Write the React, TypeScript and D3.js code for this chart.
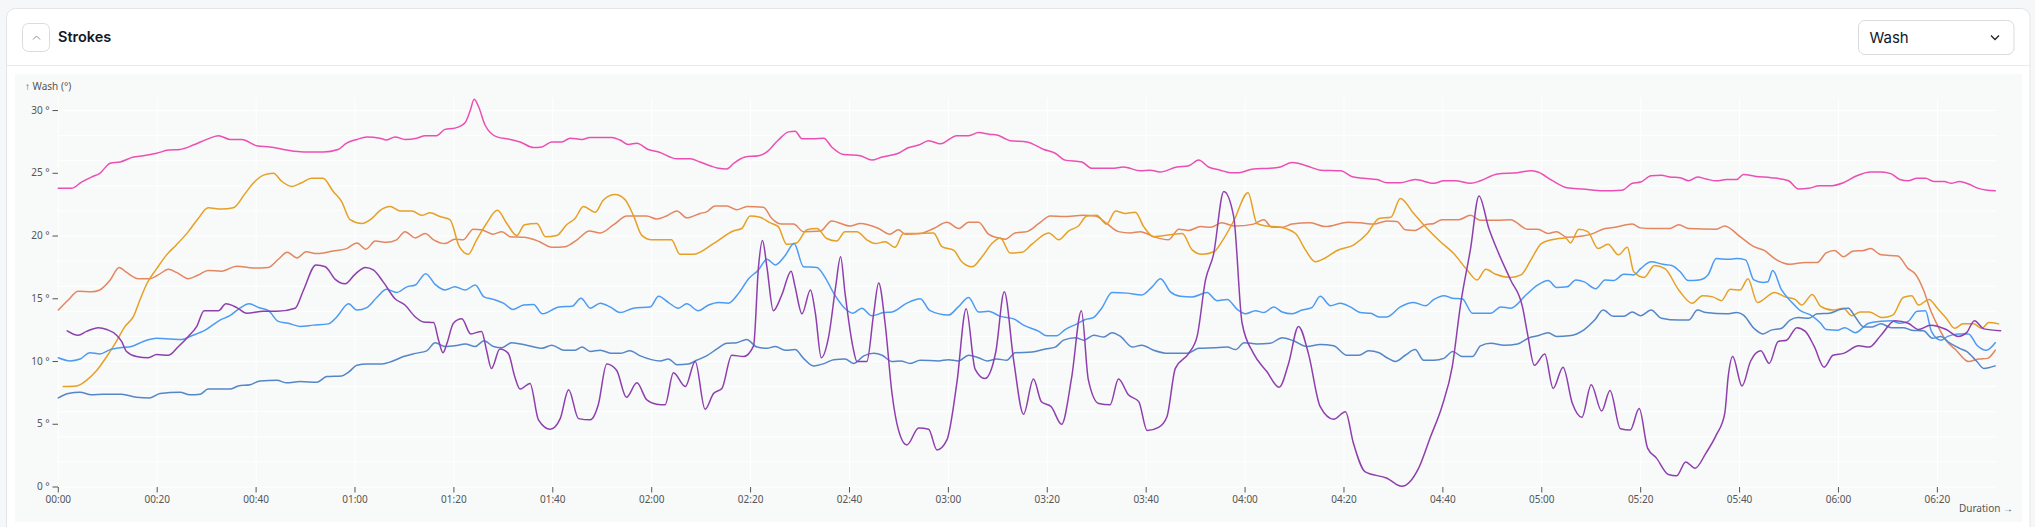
import React from "react";
import * as d3 from "d3";

type P = [number, number];

// minutes, degrees
const pinkSeries: P[] = [[0,23.8],[2.7,23.8],[4.7,24.3],[6.7,24.7],[8.4,25.0],[10.5,25.8],[12.5,25.9],[15.2,26.3],[17.2,26.4],[19.9,26.6],[22.3,26.85],[24.6,26.9],[27.3,27.25],[30,27.7],[32.4,28.0],[34.7,27.7],[37.1,27.7],[40.1,27.2],[42.8,27.1],[46.2,26.85],[49.6,26.7],[53.6,26.7],[56.6,26.9],[58.3,27.4],[60.4,27.7],[62.4,27.9],[65,27.8],[66.4,27.65],[68.1,27.9],[70.1,27.7],[72.5,27.8],[74.2,28.0],[76.5,28.0],[78.2,28.5],[80.2,28.6],[82.3,29.05],[83.3,30.0],[84.1,30.9],[85,30.3],[86.3,28.85],[88.7,27.9],[91.4,27.7],[93.4,27.5],[96.1,27.05],[97.8,27.1],[99.8,27.5],[101.8,27.5],[103.5,27.8],[105.9,27.7],[107.5,27.85],[111.9,27.85],[113.6,27.65],[115.3,27.3],[117,27.4],[119.3,26.9],[121.4,26.7],[125.1,26.15],[127.8,26.15],[129.8,25.9],[131.8,25.6],[133.5,25.4],[135.2,25.35],[136.6,25.8],[138.9,26.3],[141.6,26.4],[143.3,26.7],[145.6,27.65],[147.7,28.3],[149,28.35],[150.4,27.75],[152.7,27.75],[154.8,27.8],[156.4,27.1],[158.8,26.5],[162.2,26.4],[164.5,26.05],[166.6,26.3],[169.9,26.6],[172,27.05],[174,27.25],[176,27.6],[178.4,27.35],[181.7,28.0],[184.1,28.0],[186.1,28.25],[188.4,28.1],[189.8,28.05],[191.8,27.7],[192.5,27.6],[195.9,27.5],[199.3,26.9],[201.6,26.6],[203.6,26.05],[207,25.9],[209,25.4],[213.1,25.4],[215.4,25.5],[218.8,25.2],[220.8,25.25],[222.8,25.1],[226.2,25.5],[228.6,25.6],[230.6,26.05],[232.6,25.5],[235,25.25],[237,25.05],[238.7,25.05],[241.7,25.35],[245.1,25.4],[247.1,25.5],[249.5,25.85],[253.5,25.45],[255.2,25.25],[259.3,25.2],[261.9,24.7],[264,24.6],[266.7,24.5],[268.7,24.25],[271.4,24.25],[274.4,24.5],[278.2,24.2],[280.2,24.4],[282.5,24.4],[285.6,24.2],[287.6,24.4],[291,24.95],[295.1,25.05],[297.8,25.2],[299.2,25.1],[302,24.45],[305.1,23.85],[308.2,23.75],[312.4,23.6],[316.2,23.65],[318.3,24.2],[320,24.3],[322.1,24.8],[324.2,24.85],[325.9,24.7],[328,24.65],[329.7,24.4],[331.5,24.7],[333.2,24.55],[335.3,24.4],[337.4,24.5],[339.4,24.5],[340.8,24.9],[343.3,24.75],[346.4,24.65],[349.9,24.4],[351.9,23.75],[354,23.8],[356.1,24.0],[358.2,24.0],[361,24.25],[363.7,24.8],[366.5,25.1],[368.6,25.1],[370.7,24.95],[372.4,24.5],[374.1,24.4],[375.9,24.6],[377.6,24.6],[379.3,24.35],[381.4,24.35],[382.8,24.2],[384.5,24.35],[386.3,24.15],[388.3,23.8],[390.1,23.65],[391.7,23.6]];

const coralSeries: P[] = [[0,14.1],[2,14.9],[4,15.6],[6.7,15.55],[8.4,15.7],[10.5,16.5],[12.3,17.5],[13.8,17.1],[16.2,16.6],[18.5,16.6],[20.2,16.9],[22.3,17.35],[23.9,17.1],[26.3,16.6],[28.3,16.9],[30.3,17.25],[33,17.2],[36.1,17.6],[39.4,17.45],[42.5,17.5],[44.5,18.15],[46.3,18.7],[48.3,18.25],[50.1,18.75],[52.3,18.6],[55.6,18.8],[58.3,19.0],[60.4,19.45],[62.2,18.95],[64.1,19.6],[66.4,19.5],[68.4,19.7],[70.1,20.35],[72.2,19.85],[74.2,20.2],[75.9,19.7],[78.2,19.4],[80.2,19.75],[81.9,19.7],[83.9,20.55],[85.6,20.5],[87.9,20.15],[89.7,20.35],[91.4,19.95],[94.3,19.9],[97.3,19.55],[99.8,19.1],[102.5,19.15],[104.9,19.7],[107.4,20.4],[109.6,20.25],[112.3,20.9],[115,21.6],[119,21.6],[121,21.35],[123,21.6],[125.1,22.0],[127.1,21.45],[129.8,21.8],[131.2,21.95],[132.8,22.4],[135.2,22.4],[137.2,22.1],[139.3,22.35],[142.6,22.3],[144.3,21.4],[146.3,20.95],[148.7,20.95],[150.7,20.35],[154.1,20.4],[156.4,21.2],[160.1,20.8],[162.2,21.0],[165.9,20.6],[168.2,20.15],[169.9,20.5],[171.3,20.15],[174.3,20.2],[177,20.6],[179.7,21.1],[182.1,20.6],[184.1,21.1],[186.1,21.1],[188.1,20.15],[190.1,19.85],[191.5,19.75],[193.5,20.25],[195.9,20.35],[198.3,21.0],[200.6,21.6],[203.3,21.55],[207.3,21.65],[209.7,21.6],[212,21.0],[214.4,20.35],[216.8,20.25],[218.8,20.35],[221.5,19.95],[224.5,19.7],[226.6,20.55],[228.6,20.45],[231,20.75],[233,20.7],[235.3,21.05],[238,20.8],[241.7,20.95],[243.8,21.3],[245.4,20.7],[247.5,20.7],[249.5,20.95],[253.2,21.05],[256.2,20.75],[260.9,21.1],[263.3,21.05],[266,20.95],[268.7,21.2],[270.7,21.15],[272.4,20.5],[274.4,20.45],[276.5,20.9],[278.2,21.0],[279.8,21.3],[283.2,21.3],[285.6,21.65],[287.6,21.25],[291,21.25],[293.7,21.3],[297.1,20.55],[299.2,20.55],[301.3,20.2],[303,20.35],[305.1,19.9],[308.2,20.0],[310,20.15],[312.8,20.6],[314.8,20.7],[318.3,20.95],[320,20.65],[322.1,20.6],[325.9,20.6],[327.7,20.9],[329.7,20.6],[335.3,20.55],[337,20.8],[340.1,19.95],[342.9,19.15],[345,18.85],[347.1,18.2],[350.2,17.75],[353.3,17.9],[355.7,17.9],[357.5,18.65],[359.2,18.85],[361,18.35],[363,18.8],[365.1,18.85],[366.5,19.0],[368.6,18.5],[372,18.4],[374.1,17.4],[375.5,17.0],[377.2,15.7],[378.6,14.1],[380,12.9],[381.7,11.7],[383.8,10.9],[386.3,10.0],[388.3,10.2],[390.1,10.25],[391.7,10.9]];

const goldSeries: P[] = [[1,8.0],[3.7,8.05],[5.7,8.5],[7.8,9.3],[9.8,10.4],[11.5,11.45],[13.5,12.8],[15.2,13.6],[16.5,14.9],[17.9,16.2],[19.9,17.4],[21.9,18.5],[23.9,19.3],[26.3,20.35],[28.3,21.4],[30.3,22.25],[33,22.15],[35.4,22.25],[37.8,23.4],[39.4,24.2],[41.5,24.85],[43.5,25.0],[45.2,24.35],[47.2,23.95],[49.2,24.25],[51.2,24.6],[53.5,24.6],[55.6,23.55],[57.3,22.75],[59,21.3],[61.4,21.0],[63.4,21.4],[65.1,22.05],[67.1,22.35],[69.1,22.0],[71.5,22.0],[73.5,21.65],[75.2,21.85],[77.2,21.55],[79.2,21.3],[81.1,19.15],[82.9,18.55],[84.6,19.7],[86.6,21.0],[88.8,22.05],[90.7,21.0],[92.7,20.05],[94.3,20.9],[96.8,21.0],[98.5,19.95],[100.8,20.05],[102.8,20.9],[104.5,21.4],[106.2,22.35],[108.6,21.9],[110.2,22.85],[112.6,23.3],[114.6,22.9],[116.3,21.65],[118,20.05],[120,19.7],[124,19.7],[125.7,18.55],[128.4,18.55],[132.5,19.4],[136.5,20.4],[138.2,20.6],[139.9,21.6],[141.9,21.5],[144,21.05],[145.6,20.75],[147.3,19.35],[149.3,19.45],[151.4,20.5],[153.4,20.6],[155.4,19.8],[157.4,19.6],[159.1,20.35],[161.5,20.35],[163.5,19.7],[165.2,19.4],[167.2,19.55],[169.2,19.1],[170.9,20.2],[173.3,20.2],[177,20.25],[178.7,19.15],[181.1,18.85],[182.7,17.95],[184.8,17.55],[186.8,18.35],[188.8,19.4],[190.5,19.85],[192.5,18.65],[194.9,18.7],[196.9,19.35],[200.3,20.25],[202.3,19.7],[204.3,20.4],[206.3,20.8],[208,21.6],[210,21.65],[212,20.95],[213.8,22.0],[215.8,21.8],[217.8,21.9],[219.5,20.75],[221.5,19.95],[224.9,20.1],[227.3,20.2],[229.3,18.9],[231.3,18.55],[233.7,18.75],[235.3,19.55],[237.7,21.2],[240.6,23.45],[242.4,21.0],[244.4,20.8],[247.1,20.7],[250.2,20.2],[252.2,18.9],[254.2,17.95],[256.2,18.25],[258.6,18.85],[262,19.3],[264.7,20.2],[267.1,21.4],[269.5,21.5],[271.4,23.0],[274.1,21.8],[276.8,20.6],[279.5,19.55],[282.2,18.6],[285,17.25],[286.9,16.5],[288.7,17.35],[290.7,16.95],[293.7,16.7],[295.8,16.9],[297.8,18.1],[299.9,19.4],[302,19.7],[304.8,19.85],[305.8,19.45],[307.5,20.55],[309.3,20.35],[311.4,19.0],[313.4,19.35],[315.5,18.5],[317.3,19.1],[318.6,17.15],[320.7,16.7],[322.8,17.65],[324.9,17.4],[327.7,15.7],[330.4,14.65],[332.5,15.25],[334.6,15.15],[336.3,14.85],[338.1,15.75],[340.1,15.7],[341.7,16.6],[343.6,14.7],[347.1,15.5],[349.2,15.15],[351.2,14.95],[352.6,14.5],[354.7,15.35],[356.4,14.4],[358.9,14.1],[361,14.25],[362.7,13.65],[364.4,13.95],[366.2,13.95],[368.9,13.5],[371,13.7],[373.1,15.1],[374.8,15.25],[376.2,14.5],[378.3,14.95],[380,14.25],[381.8,13.45],[383.5,12.65],[385.2,13.0],[387.3,13.0],[389,12.65],[390.4,13.1],[392.4,13.0]];

const skySeries: P[] = [[0,10.3],[2.4,10.05],[4.4,10.2],[6.4,10.7],[8.4,10.6],[10.5,10.95],[12.5,11.1],[14.8,11.2],[17.2,11.6],[19.9,11.85],[22.6,11.8],[24.9,11.75],[27,12.05],[29.7,12.5],[32.7,13.3],[34.7,13.65],[36.7,14.25],[38.6,14.6],[40.5,14.3],[42.5,14.05],[44.5,13.2],[46.5,13.05],[48.9,12.8],[51.6,12.9],[54.6,13.0],[56.3,13.55],[58.7,14.6],[60.4,14.1],[62.4,14.3],[64.4,15.1],[66.4,15.75],[68.4,15.5],[70.5,15.95],[72.2,16.1],[74.3,17.0],[76.2,16.15],[78.2,15.7],[80.2,15.95],[82.3,15.7],[84.3,16.1],[86.1,15.15],[88,14.95],[90,14.65],[92,14.15],[94.1,14.5],[96.1,14.55],[97.9,13.8],[101.3,14.35],[103.9,14.4],[105.7,15.05],[107.6,14.25],[109.6,14.65],[111.6,14.35],[113.6,13.9],[116.3,14.25],[119.7,14.35],[121.4,15.2],[123.4,14.7],[125.4,14.25],[127.1,14.6],[129.4,14.05],[131.5,14.5],[133.5,14.7],[135.5,14.65],[137.6,15.45],[139.6,16.6],[141.6,17.3],[143.3,18.15],[145,17.7],[147,18.45],[148.8,19.4],[150.7,17.55],[153.4,17.5],[155,16.75],[156.8,15.45],[158.8,14.35],[160.7,13.85],[162.5,14.25],[164.5,13.65],[166.9,13.9],[168.6,13.95],[171.6,14.65],[174.3,15.0],[176.3,14.05],[180,13.7],[182,14.35],[184.1,15.1],[186.1,13.95],[188.1,14.0],[190.5,13.6],[193.2,13.4],[195.2,12.9],[198.3,12.4],[199.9,12.05],[201.9,12.05],[203.6,12.55],[206,13.0],[207.7,13.35],[209.3,13.5],[211,14.25],[213.1,15.5],[216.1,15.45],[219.1,15.3],[221.2,15.95],[222.9,16.6],[224.9,15.55],[226.9,15.2],[229.3,15.15],[232.3,15.5],[234.3,14.85],[236.4,14.95],[238.4,14.15],[240.1,13.8],[242.1,14.05],[243.8,13.9],[245.8,14.35],[247.5,13.95],[249.5,13.8],[251.5,14.1],[253.5,14.3],[255.2,15.2],[257.3,14.45],[259.3,14.65],[261.3,14.35],[263.3,13.9],[265.4,13.85],[267.1,13.55],[268.7,13.55],[271.4,14.35],[274.1,14.7],[276.5,14.45],[278.2,14.95],[280.2,15.25],[281.9,15.05],[283.9,15.0],[286,13.85],[289.7,13.85],[291.7,14.35],[293.7,14.25],[296.8,15.3],[299.2,16.1],[301.3,16.45],[303,15.9],[305.1,15.95],[306.9,16.5],[308.6,16.35],[310.9,15.8],[312.8,16.5],[314.5,16.45],[316.6,16.95],[318.6,16.9],[320,17.4],[322.1,17.95],[324.5,17.75],[326.3,17.65],[328,17.15],[329.6,16.45],[331.8,16.5],[333.6,16.9],[335.3,18.2],[337.7,18.15],[339.4,18.2],[341.2,18.1],[342.9,16.5],[344.7,16.3],[345.7,16.35],[346.7,17.25],[348.5,15.7],[350.5,14.75],[352.3,14.05],[354.4,13.7],[356.4,13.05],[357.5,12.55],[359.9,12.5],[361.3,12.7],[363.4,12.3],[366.1,13.05],[368.6,13.2],[370.7,13.25],[372.4,13.05],[374.1,13.2],[375.9,14.0],[377.6,14.05],[378.8,12.4],[380.7,11.7],[382.1,12.0],[384.2,12.2],[386.3,12.2],[388,11.3],[389.9,10.9],[391.7,11.5]];

const steelSeries: P[] = [[0,7.1],[2,7.45],[4.4,7.55],[6.7,7.35],[9.1,7.4],[12.8,7.4],[15.8,7.15],[18.5,7.1],[20.6,7.45],[24.6,7.55],[26.6,7.35],[28.7,7.4],[30.3,7.8],[34.7,7.8],[36.4,8.05],[38.8,8.15],[40.8,8.45],[44.2,8.5],[46.2,8.3],[48.9,8.4],[52.3,8.35],[54.3,8.8],[57.3,8.85],[58.7,9.15],[60.4,9.7],[62.4,9.8],[65.4,9.8],[67.4,10.0],[69.8,10.4],[72.2,10.65],[74.5,10.85],[76.2,11.5],[78.2,11.2],[80.2,11.25],[82.3,11.4],[84.3,11.2],[86.1,11.65],[88,11.2],[89.7,11.1],[91.7,11.5],[94.7,11.3],[97.8,11.05],[99.8,11.3],[102.2,10.9],[104.5,10.9],[105.9,11.15],[107.6,10.8],[109.6,10.9],[111.9,10.65],[113.6,10.65],[115.6,10.85],[117.7,10.45],[121.7,10.05],[123.4,10.2],[125.1,9.75],[127.4,9.8],[129.1,10.1],[131.1,10.45],[133.2,11.0],[135.2,11.45],[137.2,11.5],[139.2,11.75],[141.3,11.15],[143.3,11.05],[145,11.2],[147,10.9],[149,10.95],[150.7,10.25],[152.7,9.65],[155,9.85],[156.8,10.15],[159.1,10.2],[160.8,9.85],[162.9,10.45],[164.9,10.65],[166.6,10.5],[168.6,10.0],[170.3,10.05],[172.3,9.85],[174.3,10.1],[178,10.05],[180,10.15],[182,10.05],[184.1,10.5],[186.1,10.3],[187.8,10.05],[189.8,10.2],[191.8,10.1],[193.5,10.7],[196.9,10.75],[199.6,11.0],[201.6,11.15],[203.3,11.7],[205.7,11.9],[207.4,11.7],[209.4,12.1],[211.4,11.95],[213.1,12.3],[214.8,12.0],[217.2,11.15],[219.1,11.3],[221.5,10.9],[224.5,10.65],[228.3,10.65],[230.6,11.05],[233.7,11.1],[236.4,11.15],[238.1,10.95],[239.8,11.5],[242.4,11.4],[245.1,11.45],[247.5,11.9],[249.8,11.65],[252.5,11.2],[255.2,11.35],[257.9,11.25],[260.6,10.5],[263,10.5],[265,10.85],[267.1,10.7],[268.7,10.3],[270.4,10.0],[272.4,10.5],[274.4,10.95],[276.1,10.1],[278.2,10.1],[280.2,10.25],[282,10.8],[283.9,10.4],[286,10.4],[287.6,11.25],[289.7,11.45],[292.4,11.3],[295.1,11.4],[297.5,11.9],[299.2,12.05],[301.3,12.3],[303,12.0],[305.5,12.05],[308.6,12.55],[310.7,13.3],[312.4,14.1],[314.5,13.6],[316.6,13.6],[318.3,13.95],[320,13.65],[322.1,14.1],[324.2,13.45],[327.7,13.3],[329.7,13.3],[331.5,14.1],[333.2,13.9],[337.4,13.8],[339.4,13.9],[340.8,13.7],[342.9,12.65],[344.7,12.2],[346.4,12.5],[348.5,12.65],[350.2,13.3],[351.9,13.5],[354,13.45],[355.7,13.8],[358.2,13.85],[360.3,14.15],[362,14.25],[363.4,13.55],[365.1,12.75],[366.8,12.75],[368.6,13.0],[370.7,12.7],[373.1,12.7],[374.8,12.5],[377.2,12.45],[379,11.85],[380.7,12.0],[382.4,11.5],[384.5,11.05],[385.9,10.8],[388,10.0],[389.4,9.45],[391.7,9.65]];

const purpleSeries: P[] = [[1.8,12.45],[4,12.1],[5.7,12.4],[8.1,12.7],[9.8,12.55],[11.8,12.1],[12.8,11.6],[13.8,10.8],[15.8,10.4],[18.2,10.3],[19.9,10.55],[22.3,10.5],[24.3,11.2],[26.3,12.0],[28,12.8],[29.5,14.05],[32.4,14.05],[33.9,14.6],[36.1,14.3],[38.1,13.85],[41.5,14.0],[44.2,14.0],[47.9,14.25],[49.6,15.7],[52.1,17.7],[54,17.55],[56,16.55],[58,16.2],[60,16.95],[62.1,17.5],[63.7,17.3],[65.7,16.35],[68.1,15.0],[70.1,14.5],[72.2,13.55],[73.9,13.15],[75.9,13.1],[76.9,11.7],[77.8,10.7],[78.6,11.45],[79.9,13.05],[81.6,13.4],[83.4,12.2],[85.6,12.4],[86.6,10.9],[87.6,9.45],[89.3,11.0],[91,10.65],[92.3,8.8],[93.4,7.8],[95.4,8.25],[97.1,5.35],[99.5,4.6],[101.5,5.45],[103.2,7.75],[105.2,5.45],[107.6,5.35],[109.2,6.55],[110.9,9.8],[112.9,9.3],[114.9,7.15],[117,8.3],[119,6.95],[121,6.6],[122.7,6.55],[124.4,9.1],[126.8,8.0],[128.8,10.0],[130.8,6.2],[132.5,7.45],[134.2,7.85],[136.2,10.5],[138.6,10.4],[140.6,11.25],[141.6,17.55],[142.4,19.65],[143.3,17.55],[144.6,14.05],[146.3,15.3],[148.2,17.2],[149,15.95],[150.4,13.8],[152.1,15.7],[153.1,13.85],[154.3,10.3],[155.8,12.0],[157.2,15.95],[158.2,18.35],[159.1,15.45],[160.7,11.15],[161.5,10.0],[163.5,10.0],[164.9,13.85],[165.9,16.25],[167.2,13.05],[168.6,7.45],[169.9,4.55],[171.6,3.35],[174,4.7],[176,4.6],[177.7,2.95],[179.7,3.75],[181.7,8.25],[183.6,14.2],[185.4,9.4],[187.4,8.65],[189.6,10.8],[191.3,15.55],[193.2,10.1],[195.2,5.8],[197.2,8.6],[198.8,6.8],[200.8,6.4],[202.9,5.0],[204.9,8.65],[206.9,14.05],[208.3,8.55],[210.4,6.65],[212.7,6.55],[214.4,8.6],[216.4,7.35],[218.5,6.8],[220.2,4.5],[222.5,4.75],[224.2,5.6],[225.9,9.45],[228.6,10.65],[230.3,12.0],[232,16.5],[233.6,18.5],[235.7,23.55],[237.7,21.55],[239.4,13.05],[241.7,10.65],[244.4,9.2],[246.9,7.95],[248.8,9.85],[250.8,12.8],[252.8,10.65],[255.2,6.4],[257.9,5.4],[260.3,6.0],[261.9,3.5],[264.3,1.2],[268.7,0.7],[271.7,0.05],[275.1,1.5],[277.5,4.0],[279.8,6.4],[281.9,9.6],[283.6,14.6],[285.6,19.0],[287.3,23.2],[289.3,20.6],[291.3,18.6],[293.7,16.5],[296.1,14.35],[297.1,12.25],[298.5,9.7],[300.6,10.6],[302.3,7.85],[304.3,9.55],[306.2,6.65],[308.1,5.55],[310,8.15],[312.1,6.05],[313.8,7.7],[315.9,4.65],[317.9,4.55],[319.7,6.25],[321.4,3.1],[323.2,2.3],[325.6,1.0],[327.3,0.9],[329.1,2.0],[331,1.5],[333.2,2.7],[335.3,4.15],[337,5.85],[337.7,8.8],[338.6,10.4],[340.5,8.05],[342.2,10.0],[344.3,10.85],[346,9.85],[347.8,11.6],[349.5,11.7],[351.6,12.7],[353.3,12.4],[355.1,11.2],[357.1,9.55],[358.9,10.5],[361,10.65],[364.1,11.25],[366.2,11.15],[368.6,12.1],[371.4,13.25],[374.1,13.05],[376.2,12.55],[378.6,12.9],[381.8,12.55],[384.2,12.0],[385.9,12.3],[387.5,13.25],[389.4,12.6],[392.8,12.45]];

const seriesList = [
  { key: "pink", color: "#ec4fb3", data: pinkSeries },
  { key: "coral", color: "#e4865f", data: coralSeries },
  { key: "gold", color: "#e6a024", data: goldSeries },
  { key: "sky", color: "#4c9bf3", data: skySeries },
  { key: "steel", color: "#5586c8", data: steelSeries },
  { key: "purple", color: "#8e3fae", data: purpleSeries },
];

const xTicks = d3.range(0, 381, 20);
const yTicks = [0, 5, 10, 15, 20, 25, 30];
const yGrid = d3.range(0, 31, 2);

const fmt = (m: number) => {
  const h = Math.floor(m / 60);
  const mm = m % 60;
  return `${String(h).padStart(2, "0")}:${String(mm).padStart(2, "0")}`;
};

export default function App() {
  const x = d3.scaleLinear().domain([0, 392]).range([58.3, 1996.7]);
  const y = d3.scaleLinear().domain([0, 31]).range([487, 98]);
  const line = d3
    .line<P>()
    .x((d) => x(d[0]))
    .y((d) => y(d[1]))
    .curve(d3.curveMonotoneX);

  const axisFont = "'Noto Sans', 'Open Sans', sans-serif";
  const uiFont = "Inter, 'Noto Sans', sans-serif";

  return (
    <div style={{ position: "fixed", left: 0, top: 0, width: 2035, height: 527, background: "#f6f7f8" }}>
      <svg width={2035} height={527} style={{ display: "block" }}>
        {/* card */}
        <rect x={6.5} y={8.5} width={2023.5} height={540} rx={9} fill="#ffffff" stroke="#e3e5e8" />
        <line x1={7} x2={2030} y1={65.5} y2={65.5} stroke="#e8eaec" />
        {/* collapse button */}
        <rect x={22.5} y={23.5} width={27} height={28} rx={6} fill="#fff" stroke="#d9dbde" />
        <polyline points="33,39.5 36.5,36 40,39.5" fill="none" stroke="#8a8f96" strokeWidth={1} />
        <text x={58} y={41.5} fontFamily={uiFont} fontSize={14.5} fontWeight={600} fill="#111827">Strokes</text>
        {/* dropdown */}
        <rect x={1858.5} y={20.5} width={155.5} height={34} rx={6.5} fill="#fff" stroke="#d9dbde" />
        <text x={1869.5} y={42.5} fontFamily={uiFont} fontSize={15} fill="#111827">Wash</text>
        <polyline points="1991,35.5 1995,39.5 1999,35.5" fill="none" stroke="#222" strokeWidth={1.3} />

        {/* chart panel */}
        <rect x={15} y={74} width={2007} height={448} fill="#f8f9f9" />

        {/* grid */}
        {yGrid.map((v) => (
          <line key={"gy" + v} x1={x(0)} x2={x(392)} y1={y(v)} y2={y(v)} stroke="#ffffff" strokeWidth={1} />
        ))}
        {xTicks.map((t) => (
          <line key={"gx" + t} x1={x(t)} x2={x(t)} y1={y(31)} y2={y(0)} stroke="#ffffff" strokeWidth={1} />
        ))}

        {/* y axis */}
        {yTicks.map((v) => (
          <g key={"yt" + v}>
            <line x1={52.5} x2={58} y1={y(v)} y2={y(v)} stroke="#555" strokeWidth={1} />
            <text x={49.5} y={y(v)} dy="0.32em" textAnchor="end" fontFamily={axisFont} fontSize={10} fill="#555">
              {`${v} °`}
            </text>
          </g>
        ))}
        <text x={25} y={90} fontFamily={axisFont} fontSize={10} fill="#555">↑ Wash (°)</text>

        {/* x axis */}
        {xTicks.map((t) => (
          <g key={"xt" + t}>
            <line x1={x(t)} x2={x(t)} y1={487} y2={492.5} stroke="#555" strokeWidth={1} />
            <text x={x(t)} y={503} textAnchor="middle" fontFamily={axisFont} fontSize={10} fill="#555">
              {fmt(t)}
            </text>
          </g>
        ))}
        <text x={2013} y={512} textAnchor="end" fontFamily={axisFont} fontSize={10} fill="#555">Duration →</text>

        {/* lines */}
        {seriesList.map((s) => (
          <path key={s.key} d={line(s.data) || ""} fill="none" stroke={s.color} strokeWidth={1.5} strokeLinejoin="round" strokeLinecap="round" />
        ))}
      </svg>
    </div>
  );
}
